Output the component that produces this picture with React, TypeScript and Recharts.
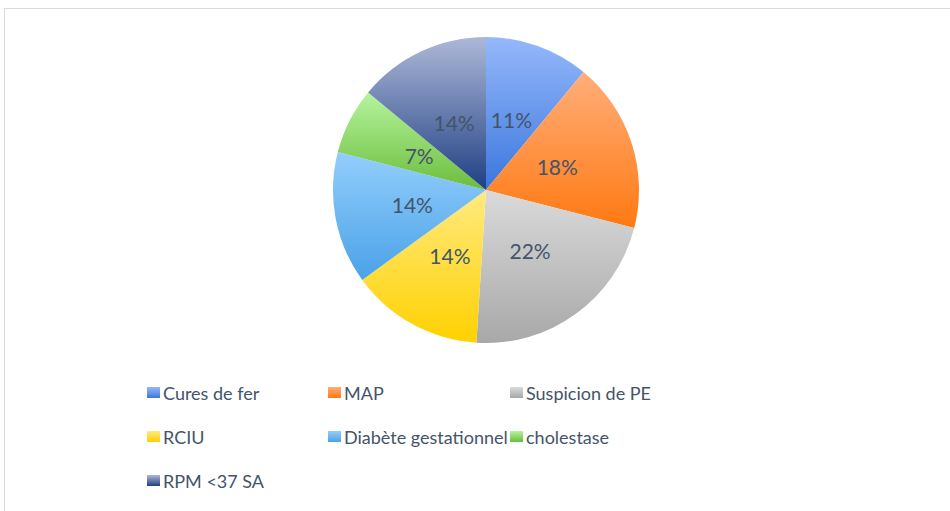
import { PieChart, Pie, Cell, Legend } from 'recharts';

const categories = [
  'Cures de fer',
  'MAP',
  'Suspicion de PE',
  'RCIU',
  'Diabète gestationnel',
  'cholestase',
  'RPM <37 SA',
];
const percentages = [11, 18, 22, 14, 14, 7, 14];

// light (top) / dark (bottom) gradient stops per slice
const topColors = ['#96b8fb', '#ffae7a', '#dadada', '#ffea80', '#93cefc', '#b6f49e', '#adb8d8'];
const bottomColors = ['#3b77dc', '#ff7912', '#a8a8a8', '#ffd100', '#4aa2e8', '#6bbd3c', '#1f3f82'];

const TEXT_COLOR = '#44546a';
const FONT = 'Lato, "Open Sans", sans-serif';
const RADIAN = Math.PI / 180;

const data = categories.map((name, i) => ({ name, value: percentages[i] }));

function renderLabel(props: any) {
  const { cx, cy, midAngle, outerRadius, value } = props;
  const r = outerRadius * 0.49;
  const x = cx + r * Math.cos(-midAngle * RADIAN);
  const y = cy + r * Math.sin(-midAngle * RADIAN);
  return (
    <text
      x={x}
      y={y}
      fill={TEXT_COLOR}
      fontSize={21}
      fontFamily={FONT}
      textAnchor="middle"
      dominantBaseline="central"
    >
      {`${value}%`}
    </text>
  );
}

function LegendGrid() {
  return (
    <div
      style={{
        display: 'grid',
        gridTemplateColumns: '181px 182px 200px',
        rowGap: 21,
        fontFamily: FONT,
        fontSize: 18,
        color: TEXT_COLOR,
      }}
    >
      {categories.map((name, i) => (
        <div key={name} style={{ display: 'flex', alignItems: 'center', height: 23, whiteSpace: 'nowrap' }}>
          <span
            style={{
              display: 'inline-block',
              width: 13,
              height: 11,
              marginRight: 3,
              background: `linear-gradient(${topColors[i]}, ${bottomColors[i]})`,
            }}
          />
          {name}
        </div>
      ))}
    </div>
  );
}

export default function App() {
  return (
    <div style={{ position: 'absolute', left: 0, top: 0, width: 950, height: 511, background: '#fff' }}>
      <div
        style={{
          position: 'absolute',
          left: 4,
          top: 8,
          width: 946,
          height: 503,
          borderTop: '1px solid #d5dbe3',
          borderLeft: '1px solid #d5dbe3',
        }}
      />
      <PieChart width={950} height={511}>
        <defs>
          {categories.map((_, i) => (
            <linearGradient key={i} id={`grad${i}`} x1="0" y1="0" x2="0" y2="1">
              <stop offset="0%" stopColor={topColors[i]} />
              <stop offset="100%" stopColor={bottomColors[i]} />
            </linearGradient>
          ))}
        </defs>
        <Pie
          data={data}
          dataKey="value"
          nameKey="name"
          cx={481}
          cy={185}
          outerRadius={153}
          startAngle={90}
          endAngle={-270}
          stroke="none"
          label={renderLabel}
          labelLine={false}
          isAnimationActive={false}
        >
          {data.map((_, i) => (
            <Cell key={i} fill={`url(#grad${i})`} />
          ))}
        </Pie>
        <Legend
          content={() => <LegendGrid />}
          wrapperStyle={{ position: 'absolute', left: 147, top: 381, width: 600 }}
        />
      </PieChart>
    </div>
  );
}
